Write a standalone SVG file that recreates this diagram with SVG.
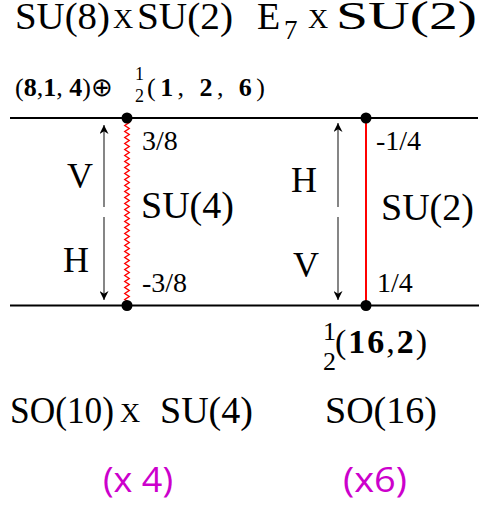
<svg xmlns="http://www.w3.org/2000/svg" width="481" height="506" viewBox="0 0 481 506">
<style>
.t{font-family:"Liberation Serif","Times New Roman",serif;fill:#000}
.b{font-weight:bold}
.m{font-family:"Open Sans","Liberation Sans",sans-serif;fill:#cc00cc}
.ln{stroke:#000;stroke-width:2;fill:none}
.ar{stroke:#444;stroke-width:1.3;fill:none}
</style>
<defs>
<marker id="ah" viewBox="0 0 10 10" refX="10" refY="5" markerWidth="14" markerHeight="9" markerUnits="userSpaceOnUse" orient="auto">
<path d="M0,0 L10,5 L0,10 L3,5 Z" fill="#000"/>
</marker>
</defs>
<g id="titles">
<text class="t" x="15" y="29" font-size="38" textLength="95" lengthAdjust="spacingAndGlyphs">SU(8)</text>
<text class="t" x="113" y="28" font-size="28">X</text>
<text class="t" x="137" y="29" font-size="38" textLength="96" lengthAdjust="spacingAndGlyphs">SU(2)</text>
<text class="t" x="257" y="29" font-size="38">E</text>
<text class="t" x="284" y="39" font-size="27">7</text>
<text class="t" x="308" y="28" font-size="28">X</text>
<text class="t" x="336" y="29" font-size="39" textLength="141" lengthAdjust="spacingAndGlyphs">SU(2)</text>
</g>
<g id="rep-top">
<text class="t" x="15" y="96" font-size="26">(<tspan class="b">8</tspan>,<tspan class="b">1</tspan>, <tspan class="b">4</tspan>)⊕</text>
<text class="t" x="135" y="80" font-size="18">1</text>
<text class="t" x="135" y="102" font-size="18">2</text>
<text class="t" x="147" y="96" font-size="26" textLength="118" lengthAdjust="spacing">(<tspan class="b">1</tspan>, <tspan class="b">2</tspan>, <tspan class="b">6</tspan>)</text>
</g>
<g id="connectors">
<line class="ln" x1="10" y1="118" x2="478" y2="118"/>
<line class="ln" x1="10" y1="305.5" x2="479" y2="305.5"/>
<path d="M127,121 l2.2,1.5 l-4.4,3 l4.4,3 l-4.4,3 l4.4,3 l-4.4,3 l4.4,3 l-4.4,3 l4.4,3 l-4.4,3 l4.4,3 l-4.4,3 l4.4,3 l-4.4,3 l4.4,3 l-4.4,3 l4.4,3 l-4.4,3 l4.4,3 l-4.4,3 l4.4,3 l-4.4,3 l4.4,3 l-4.4,3 l4.4,3 l-4.4,3 l4.4,3 l-4.4,3 l4.4,3 l-4.4,3 l4.4,3 l-4.4,3 l4.4,3 l-4.4,3 l4.4,3 l-4.4,3 l4.4,3 l-4.4,3 l4.4,3 l-4.4,3 l4.4,3 l-4.4,3 l4.4,3 l-4.4,3 l4.4,3 l-4.4,3 l4.4,3 l-4.4,3 l4.4,3 l-4.4,3 l4.4,3 l-4.4,3 l4.4,3 l-4.4,3 l4.4,3 l-4.4,3 l4.4,3 l-4.4,3 l4.4,3 l-4.4,3 l2.2,1.5" stroke="#ff0000" stroke-width="1.4" fill="none"/>
<line x1="366" y1="118" x2="366" y2="305.5" stroke="#ff0000" stroke-width="2"/>
<line class="ar" x1="104" y1="207" x2="104" y2="125" marker-end="url(#ah)"/>
<line class="ar" x1="104" y1="217" x2="104" y2="300" marker-end="url(#ah)"/>
<line class="ar" x1="338" y1="207" x2="338" y2="123" marker-end="url(#ah)"/>
<line class="ar" x1="338" y1="217" x2="338" y2="300" marker-end="url(#ah)"/>
</g>
<g id="node-left-top"><circle cx="127" cy="118" r="5.5" fill="#000"/></g>
<g id="node-left-bottom"><circle cx="127" cy="305.5" r="5.5" fill="#000"/></g>
<g id="node-right-top"><circle cx="366" cy="118" r="5.5" fill="#000"/></g>
<g id="node-right-bottom"><circle cx="366" cy="305.5" r="5.5" fill="#000"/></g>
<g id="labels-left">
<text class="t" x="67" y="188" font-size="36">V</text>
<text class="t" x="63" y="272" font-size="36">H</text>
<text class="t" x="142" y="150" font-size="28">3/8</text>
<text class="t" x="141" y="218" font-size="38">SU(4)</text>
<text class="t" x="142" y="292" font-size="28">-3/8</text>
</g>
<g id="labels-right">
<text class="t" x="291" y="192" font-size="36">H</text>
<text class="t" x="293" y="277" font-size="36">V</text>
<text class="t" x="376" y="150" font-size="28">-1/4</text>
<text class="t" x="381" y="220" font-size="38">SU(2)</text>
<text class="t" x="377" y="292" font-size="28">1/4</text>
</g>
<g id="rep-bottom">
<text class="t" x="323" y="340" font-size="26">1</text>
<text class="t" x="323" y="370" font-size="26">2</text>
<text class="t" x="335" y="353" font-size="34" textLength="92" lengthAdjust="spacing">(<tspan class="b">16</tspan>,<tspan class="b">2</tspan>)</text>
</g>
<g id="bottom">
<text class="t" x="10" y="423" font-size="38" textLength="104" lengthAdjust="spacingAndGlyphs">SO(10)</text>
<text class="t" x="120" y="422" font-size="28">X</text>
<text class="t" x="160" y="423" font-size="38">SU(4)</text>
<text class="t" x="325" y="423" font-size="38">SO(16)</text>
<text class="m" x="103" y="492" font-size="34" textLength="70" lengthAdjust="spacingAndGlyphs">(x 4)</text>
<text class="m" x="343" y="492" font-size="34" textLength="64" lengthAdjust="spacingAndGlyphs">(x6)</text>
</g>
</svg>
